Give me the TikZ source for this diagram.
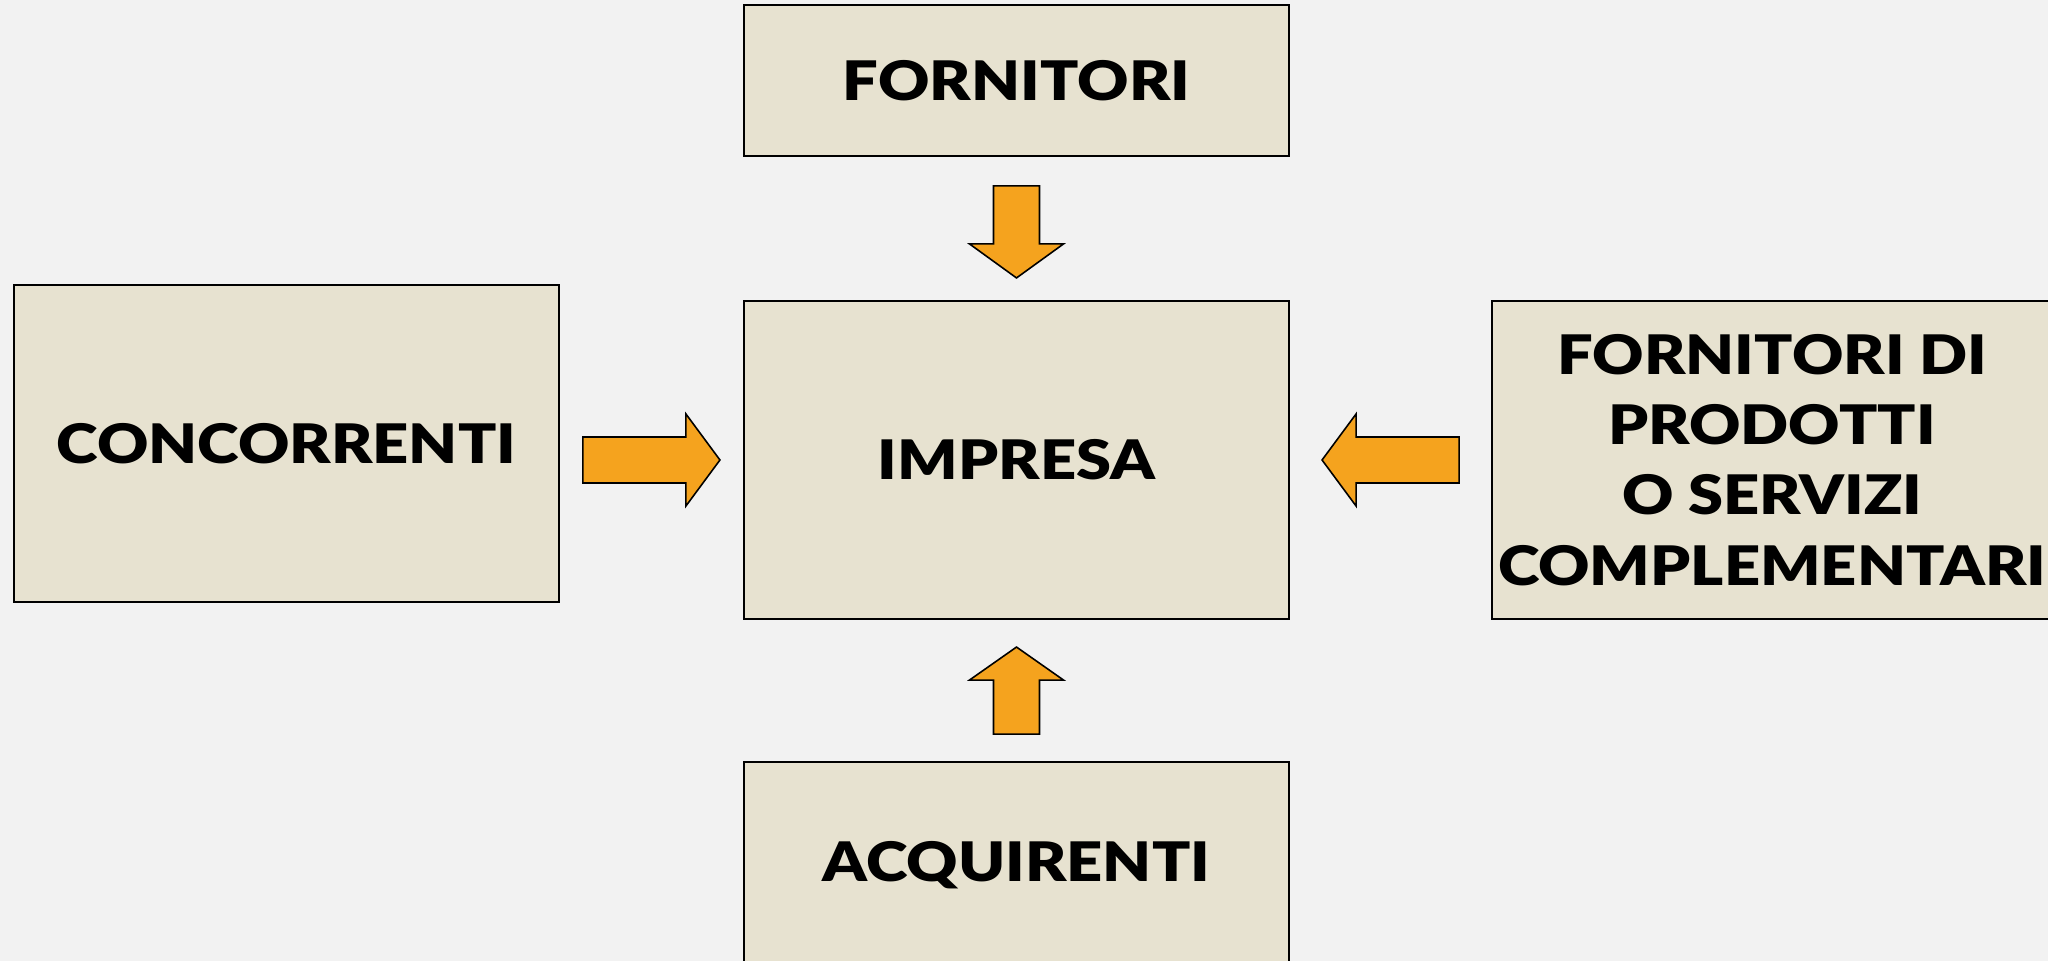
\documentclass[tikz,border=0pt]{standalone}
\usepackage{fontspec}
\setmainfont{Lato}[BoldFont={Lato Black}]
\usetikzlibrary{positioning,calc}
\definecolor{sfondo}{RGB}{242,242,242}
\definecolor{carta}{RGB}{231,226,208}
\definecolor{arancio}{RGB}{245,163,30}

\begin{document}
\begin{tikzpicture}[%
attore/.style={draw=black,line width=0.6pt,fill=carta,minimum width=5.45cm,
  align=center,font=\bfseries\fontsize{15.5}{20}\selectfont\addfontfeature{FakeStretch=1.16}},
freccia/.style={draw=black,line width=0.45pt,fill=arancio,line join=miter},
node distance=1.4cm]
\clip (0,0) rectangle (20.48,9.61);
\fill [sfondo] (0,0) rectangle (20.48,9.61);
\node [attore,minimum height=3.18cm] (impresa) at (10.165,5.01) {IMPRESA};
\node [attore,minimum height=1.51cm] (fornitori) [above=1.43cm of impresa] {FORNITORI};
\node [attore,minimum height=3.17cm] (concorrenti) [left=1.83cm of impresa,yshift=1.65mm] {CONCORRENTI};
\node [attore,minimum height=3.18cm,minimum width=5.6cm,inner xsep=0pt] (complementari) [right=2.01cm of impresa]
  {FORNITORI DI\\PRODOTTI\\O SERVIZI\\COMPLEMENTARI};
\node [attore,minimum height=2.07cm] (acquirenti) [below=1.41cm of impresa] {ACQUIRENTI};
\coordinate (mAlto)  at ($(fornitori.south)!0.5!(impresa.north)$);
\coordinate (mBasso) at ($(impresa.south)!0.5!(acquirenti.north)$);
\coordinate (mSx)    at ($(concorrenti.east |- impresa.west)!0.5!(impresa.west)$);
\coordinate (mDx)    at ($(impresa.east)!0.5!(complementari.west |- impresa.east)$);
\draw [freccia] (mAlto) ++(-0.23,0.425) -- ++(0.46,0) -- ++(0,-0.58) -- ++(0.24,0)
  -- ++(-0.47,-0.34) -- ++(-0.47,0.34) -- ++(0.24,0) -- cycle;
\draw [freccia] (mBasso) ++(-0.23,-0.435) -- ++(0.46,0) -- ++(0,0.54) -- ++(0.24,0)
  -- ++(-0.47,0.33) -- ++(-0.47,-0.33) -- ++(0.24,0) -- cycle;
\draw [freccia] (mSx) ++(-0.685,0.23) -- ++(1.03,0) -- ++(0,0.23) -- ++(0.34,-0.46)
  -- ++(-0.34,-0.46) -- ++(0,0.23) -- ++(-1.03,0) -- cycle;
\draw [freccia] (mDx) ++(0.685,0.23) -- ++(-1.03,0) -- ++(0,0.23) -- ++(-0.34,-0.46)
  -- ++(0.34,-0.46) -- ++(0,0.23) -- ++(1.03,0) -- cycle;
\end{tikzpicture}
\end{document}
